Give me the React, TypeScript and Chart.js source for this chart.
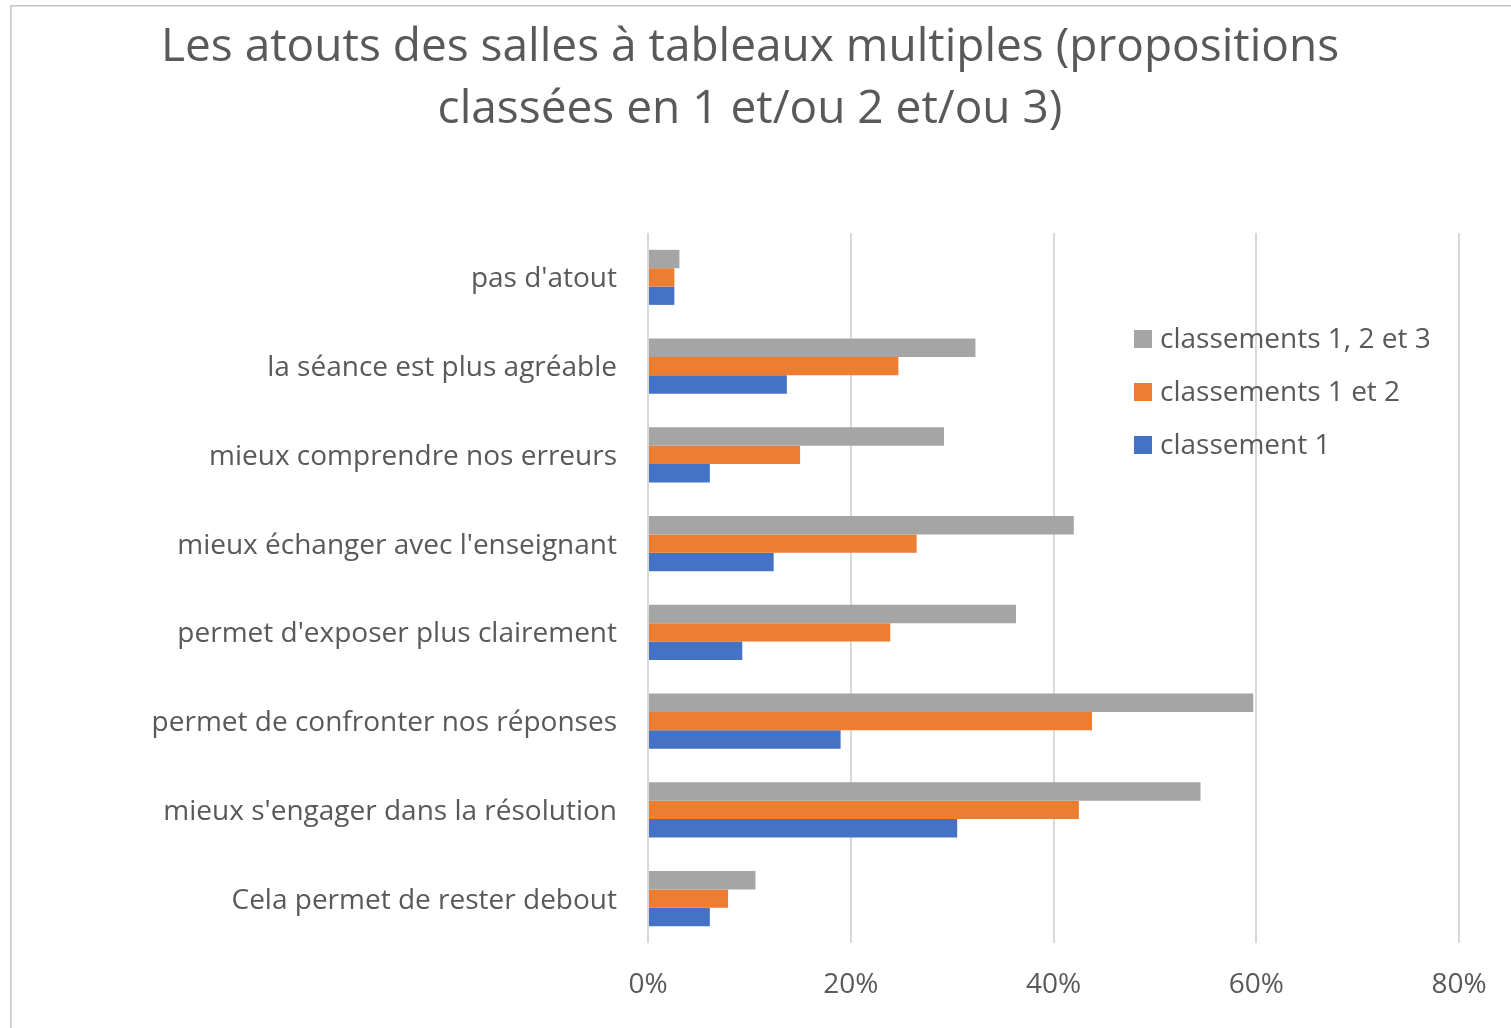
import React, { useEffect, useRef } from 'react';
import { Chart, registerables } from 'chart.js';

Chart.register(...registerables);

const categories = [
  "pas d'atout",
  'la séance est plus agréable',
  'mieux comprendre nos erreurs',
  "mieux échanger avec l'enseignant",
  "permet d'exposer plus clairement",
  'permet de confronter nos réponses',
  "mieux s'engager dans la résolution",
  'Cela permet de rester debout',
];

const seriesNames = ['classements 1, 2 et 3', 'classements 1 et 2', 'classement 1'];
const rank123 = [3.1, 32.3, 29.2, 42.0, 36.3, 59.7, 54.5, 10.6];
const rank12 = [2.6, 24.7, 15.0, 26.5, 23.9, 43.8, 42.5, 7.9];
const rank1 = [2.6, 13.7, 6.1, 12.4, 9.3, 19.0, 30.5, 6.1];
const seriesColors = ['#A5A5A5', '#ED7D31', '#4472C4'];

const xMin = 0;
const xMax = 80;
const xStep = 20;

const titleLines = [
  'Les atouts des salles à tableaux multiples (propositions',
  'classées en 1 et/ou 2 et/ou 3)',
];

const FONT = "'Open Sans', 'Noto Sans', sans-serif";
const TEXT = '#595959';

export default function App() {
  const ref = useRef<HTMLCanvasElement | null>(null);

  useEffect(() => {
    document.body.style.margin = '0';
    const canvas = ref.current;
    if (!canvas) return;

    const framePlugin = {
      id: 'frame',
      beforeDraw(chart: any) {
        const ctx = chart.ctx;
        ctx.save();
        ctx.fillStyle = '#ffffff';
        ctx.fillRect(0, 0, chart.width, chart.height);
        ctx.strokeStyle = '#c8c8c8';
        ctx.lineWidth = 1.6;
        ctx.strokeRect(10.8, 5.8, chart.width + 100, chart.height + 100);
        ctx.restore();
      },
      afterDraw(chart: any) {
        const ctx = chart.ctx;
        ctx.save();
        // title
        ctx.fillStyle = TEXT;
        ctx.font = `46px ${FONT}`;
        ctx.textAlign = 'center';
        ctx.textBaseline = 'alphabetic';
        ctx.fillText(titleLines[0], 750, 61);
        ctx.fillText(titleLines[1], 750, 123);
        // legend
        ctx.font = `28px ${FONT}`;
        ctx.textAlign = 'left';
        ctx.textBaseline = 'middle';
        const lx = 1134;
        const ly = 339;
        const gap = 53;
        seriesNames.forEach((name, i) => {
          const y = ly + i * gap;
          ctx.fillStyle = seriesColors[i];
          ctx.fillRect(lx, y - 9, 18, 18);
          ctx.fillStyle = TEXT;
          ctx.fillText(name, lx + 26, y + 1);
        });
        ctx.restore();
      },
    };

    const chart = new Chart(canvas, {
      type: 'bar',
      data: {
        labels: categories,
        datasets: [rank123, rank12, rank1].map((d, i) => ({
          label: seriesNames[i],
          data: d,
          backgroundColor: seriesColors[i],
          borderWidth: 0,
          categoryPercentage: 0.62,
          barPercentage: 1.0,
        })),
      },
      options: {
        indexAxis: 'y',
        animation: false,
        responsive: false,
        maintainAspectRatio: false,
        layout: { padding: { top: 233, right: 52, bottom: 24, left: 0 } },
        plugins: {
          legend: { display: false },
          title: { display: false },
          tooltip: { enabled: false },
        },
        scales: {
          x: {
            min: xMin,
            max: xMax,
            ticks: {
              stepSize: xStep,
              callback: (v: any) => `${v}%`,
              color: TEXT,
              font: { family: FONT, size: 28, lineHeight: 3.0 },
              padding: 0,
            },
            grid: { color: '#d9d9d9', lineWidth: 2, drawTicks: false },
            border: { display: false },
            afterFit: (scale: any) => {
              scale.height = 61;
            },
          },
          y: {
            ticks: {
              color: TEXT,
              font: { family: FONT, size: 28 },
              padding: 31,
              labelOffset: 2,
            },
            grid: { display: false, drawTicks: false },
            border: { display: false },
            afterFit: (scale: any) => {
              scale.width = 648;
            },
          },
        },
      },
      plugins: [framePlugin],
    });

    return () => chart.destroy();
  }, []);

  return (
    <div style={{ width: 1511, height: 1028, position: 'relative' }}>
      <canvas ref={ref} width={1511} height={1028} style={{ display: 'block' }} />
    </div>
  );
}
